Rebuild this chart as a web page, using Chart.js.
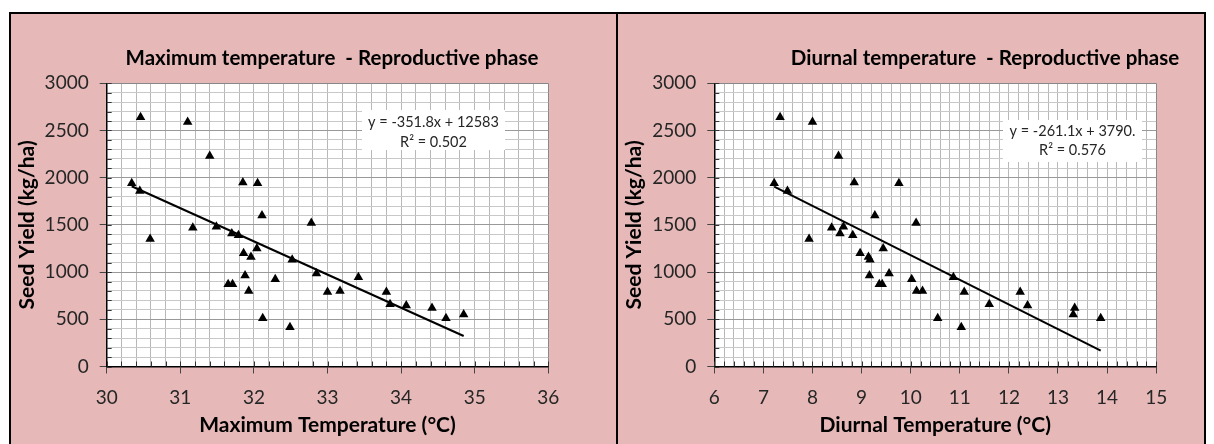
<!DOCTYPE html>
<html>
<head>
  <title>Seed yield vs temperature</title>
  <script src="https://cdn.jsdelivr.net/npm/chart.js"></script>
  <style>
    body { margin: 0; background: #fff; font-family: Lato, sans-serif; }
    #frame { position: absolute; left: 9px; top: 12px; width: 1193px; height: 440px;
             border: 2px solid #000; background: #E6B9B8; }
    .panel { position: absolute; top: 0; height: 430px; }
    #p1 { left: 0; width: 605px; }
    #p2 { left: 607px; width: 586px; }
    #divider { position: absolute; left: 605px; top: 0; width: 2px; height: 440px; background: #000; }
  </style>
</head>
<body>
  <div id="frame">
    <div class="panel" id="p1"><canvas id="c1"></canvas></div>
    <div id="divider"></div>
    <div class="panel" id="p2"><canvas id="c2"></canvas></div>
  </div>

  <script>
    // values (same 35 plots in both panels)
    const seedYield = [2640, 2590, 2230, 1940, 1860, 1950, 1940, 1600, 1520, 1470, 1480, 1350,
                       1410, 1390, 1200, 1250, 1160, 1130, 985, 945, 870, 870, 965, 800,
                       925, 790, 800, 510, 415, 790, 660, 645, 620, 510, 550];
    const maxTemp = [30.46, 31.10, 31.40, 30.34, 30.45, 31.85, 32.05, 32.11, 32.78, 31.17, 31.49, 30.59,
                     31.70, 31.79, 31.86, 32.04, 31.96, 32.52, 32.85, 33.42, 31.65, 31.71, 31.88, 31.93,
                     32.29, 33.00, 33.17, 32.12, 32.49, 33.80, 33.85, 34.07, 34.42, 34.61, 34.85];
    const diurnalTemp = [7.34, 8.00, 8.53, 7.22, 7.49, 8.85, 9.76, 9.27, 10.11, 8.39, 8.63, 7.93,
                         8.56, 8.82, 8.97, 9.44, 9.14, 9.17, 9.56, 10.87, 9.36, 9.42, 9.16, 10.12,
                         10.02, 11.09, 10.24, 10.55, 11.03, 12.23, 11.60, 12.38, 13.34, 13.87, 13.31];

    const maxFit = { slope: -351.8, intercept: 12583, eq: 'y = -351.8x + 12583', r2: 'R² = 0.502' };
    const diurnalFit = { slope: -261.1, intercept: 3790, eq: 'y = -261.1x + 3790.', r2: 'R² = 0.576' };

    const yTicks = [];
    for (let v = 0; v <= 3000; v += 100) yTicks.push(v);

    Chart.defaults.font.family = 'Lato, sans-serif';
    Chart.defaults.color = '#262626';

    const isMajorY = v => v % 500 === 0;
    const isInt = v => Math.abs(v - Math.round(v)) < 1e-6;

    // white plot area
    const plotBg = {
      id: 'plotBg',
      beforeDraw(chart) {
        const { ctx, chartArea: a } = chart;
        ctx.save();
        ctx.fillStyle = '#fff';
        ctx.fillRect(a.left, a.top, a.right - a.left, a.bottom - a.top);
        ctx.restore();
      }
    };

    // title, equation box and the little inner minor ticks
    const decor = {
      id: 'decor',
      afterDraw(chart, args, opts) {
        const { ctx, chartArea: a, scales } = chart;
        ctx.save();
        ctx.strokeStyle = '#333';
        ctx.lineWidth = 1;
        ctx.beginPath();
        scales.y.ticks.forEach(t => {
          const py = Math.round(scales.y.getPixelForValue(t.value)) + 0.5;
          ctx.moveTo(a.left, py); ctx.lineTo(a.left + 5, py);
        });
        scales.x.ticks.forEach(t => {
          const px = Math.round(scales.x.getPixelForValue(t.value)) + 0.5;
          ctx.moveTo(px, a.bottom); ctx.lineTo(px, a.bottom - 5);
        });
        ctx.stroke();

        const b = opts.box;
        ctx.fillStyle = '#fff';
        ctx.fillRect(b.x, b.y, b.w, b.h);
        ctx.fillStyle = '#262626';
        ctx.font = '14.5px Lato, sans-serif';
        ctx.textAlign = 'center';
        ctx.textBaseline = 'middle';
        ctx.fillText(opts.fit.eq, b.x + b.w / 2, b.line1);
        ctx.fillText(opts.fit.r2, b.x + b.w / 2, b.line2);

        ctx.fillStyle = '#000';
        ctx.font = 'bold 20.5px Lato, sans-serif';
        ctx.textBaseline = 'alphabetic';
        ctx.fillText(opts.title, opts.titleX, opts.titleY);
        ctx.restore();
      }
    };

    function makeChart(id, xs, fit, setup) {
      const xTicks = [];
      for (let i = setup.xMin * 5; i <= setup.xMax * 5; i++) xTicks.push(i / 5);
      const lo = Math.min(...xs), hi = Math.max(...xs);
      const points = xs.map((x, i) => ({ x: x, y: seedYield[i] }));
      const trend = [lo, hi].map(x => ({ x: x, y: fit.slope * x + fit.intercept }));

      return new Chart(document.getElementById(id), {
        type: 'scatter',
        data: {
          datasets: [
            {
              type: 'line',
              data: trend,
              borderColor: '#000',
              borderWidth: 2,
              pointRadius: 0,
              fill: false
            },
            {
              data: points,
              pointStyle: 'triangle',
              pointRadius: 5.5,
              pointHoverRadius: 5.5,
              backgroundColor: '#000',
              borderColor: '#000',
              borderWidth: 0
            }
          ]
        },
        options: {
          responsive: true,
          maintainAspectRatio: false,
          animation: false,
          layout: { padding: { top: 69.3, left: 0, right: setup.padRight, bottom: 0 } },
          plugins: {
            legend: { display: false },
            tooltip: { enabled: false },
            decor: { title: setup.title, titleX: setup.titleX, titleY: 51, fit: fit, box: setup.box }
          },
          scales: {
            x: {
              type: 'linear',
              min: setup.xMin,
              max: setup.xMax,
              afterBuildTicks: s => { s.ticks = xTicks.map(v => ({ value: v })); },
              afterFit: s => { s.height = 77.5; },
              ticks: {
                autoSkip: false,
                maxRotation: 0,
                padding: 13,
                font: { size: 19 },
                callback: v => isInt(v) ? Math.round(v) : ''
              },
              grid: {
                color: c => c.tick && c.tick.value >= setup.xMax - 1e-6 ? '#888' : '#b8b8b8',
                tickLength: 7,
                tickColor: c => isInt(c.tick.value) ? '#444' : 'rgba(0,0,0,0)'
              },
              border: { color: '#000', width: 1.5 },
              title: {
                display: true,
                text: setup.xTitle,
                color: '#000',
                font: { size: 21, weight: 'bold' },
                padding: { top: 0, bottom: 6 }
              }
            },
            y: {
              min: 0,
              max: 3000,
              afterBuildTicks: s => { s.ticks = yTicks.map(v => ({ value: v })); },
              afterFit: s => { s.width = setup.yWidth; },
              ticks: {
                autoSkip: false,
                padding: 11,
                font: { size: 19 },
                callback: v => isMajorY(v) ? v : ''
              },
              grid: {
                color: c => c.tick && c.tick.value === 3000 ? '#888' : (isMajorY(c.tick.value) ? '#999' : '#c8c8c8'),
                tickLength: 7,
                tickColor: c => isMajorY(c.tick.value) ? '#444' : 'rgba(0,0,0,0)'
              },
              border: { color: '#000', width: 1.5 },
              title: {
                display: true,
                text: 'Seed Yield (kg/ha)',
                color: '#000',
                font: { size: 21, weight: 'bold' },
                padding: { top: 4, bottom: 0 }
              }
            }
          }
        },
        plugins: [plotBg, decor]
      });
    }

    makeChart('c1', maxTemp, maxFit, {
      xMin: 30, xMax: 36, yWidth: 95.7, padRight: 67.7,
      xTitle: 'Maximum Temperature (°C)',
      title: 'Maximum temperature  - Reproductive phase', titleX: 321,
      box: { x: 351, y: 96, w: 143, h: 40, line1: 108.7, line2: 128.7 }
    });

    makeChart('c2', diurnalTemp, diurnalFit, {
      xMin: 6, xMax: 15, yWidth: 96.3, padRight: 47.8,
      xTitle: 'Diurnal Temperature (°C)',
      title: 'Diurnal temperature  - Reproductive phase', titleX: 367,
      box: { x: 385, y: 106, w: 139, h: 42, line1: 117.7, line2: 136.7 }
    });
  </script>
</body>
</html>
